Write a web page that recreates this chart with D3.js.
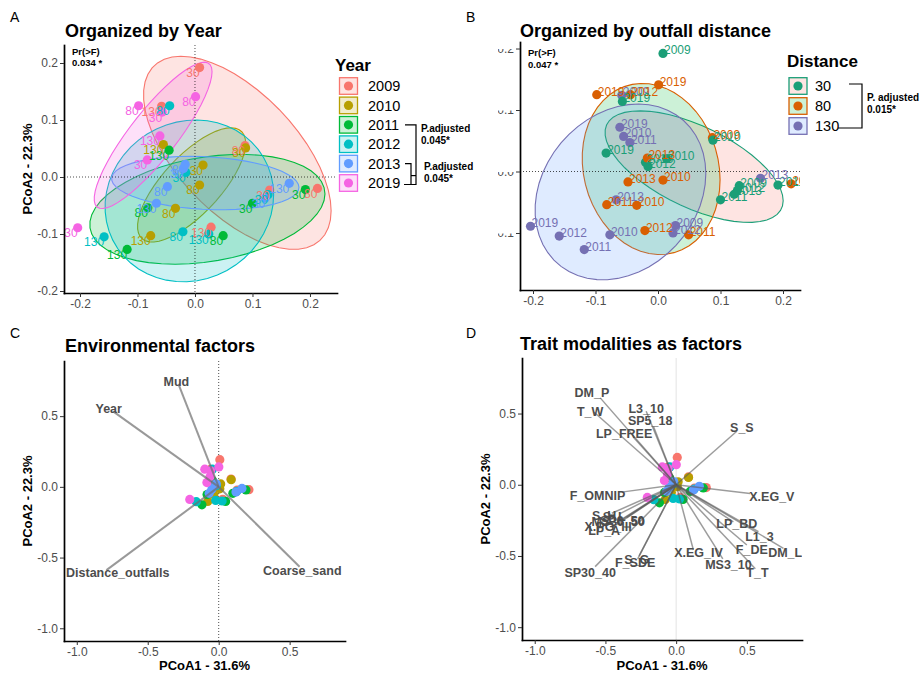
<!DOCTYPE html>
<html>
<head>
<meta charset="utf-8">
<script src="https://cdn.jsdelivr.net/npm/d3@7"></script>
<style>
  body { margin: 0; background: #fff; }
  svg { font-family: "Liberation Sans", Arial, Helvetica, sans-serif; }
</style>
</head>
<body>
<svg id="fig" width="920" height="680"></svg>
<script>
// ---------------- data ----------------
const years = ["2009", "2010", "2011", "2012", "2013", "2019"];
const distances = ["30", "80", "130"];

// one entry per sample: sampling year, distance to outfall, PCoA scores
const sampleYear = [
  "2009","2009","2009","2009","2009","2009",
  "2010","2010","2010","2010","2010","2010",
  "2011","2011","2011","2011","2011","2011",
  "2012","2012","2012","2012","2012","2012",
  "2013","2013","2013","2013","2013","2013",
  "2019","2019","2019","2019","2019","2019"
];
const sampleDist = [
  "30","30","80","80","130","130",
  "30","30","80","80","130","130",
  "30","30","80","80","130","130",
  "30","30","80","80","130","130",
  "30","30","80","80","130","130",
  "30","30","80","80","130","130"
];
const pcoa1 = [
  0.008, 0.130, 0.087, 0.213, -0.058, 0.028,
  0.014, 0.088, 0.008, -0.034, -0.055, -0.077,
  0.100, 0.192, -0.082, 0.049, -0.045, -0.118,
  -0.016, 0.127, -0.044, -0.021, 0.024, -0.158,
  0.122, -0.020, -0.017, -0.048, -0.067, 0.164,
  -0.057, -0.083, 0.001, -0.098, -0.061, -0.204
];
const pcoa2 = [
  0.192, -0.023, 0.055, -0.020, 0.124, -0.088,
  0.021, 0.051, -0.014, -0.055, 0.057, -0.103,
  -0.046, -0.022, -0.054, -0.103, 0.047, -0.127,
  0.008, -0.031, 0.125, -0.096, -0.100, -0.105,
  -0.037, 0.015, 0.022, -0.017, -0.046, -0.011,
  0.114, 0.030, 0.141, 0.125, 0.072, -0.089
];

// environmental vectors (arrow tip and label position)
const envNames  = ["Mud", "Year", "Distance_outfalls", "Coarse_sand"];
const envX      = [-0.282, -0.744, -0.791, 0.570];
const envY      = [0.723, 0.534, -0.589, -0.565];
const envLabelX = [-0.298, -0.775, -0.711, 0.589];
const envLabelY = [0.747, 0.553, -0.603, -0.589];

// trait modality vectors (arrow tip and label position)
const traitNames = ["DM_P", "T_W", "L3_10", "SP5_18", "LP_FREE", "S_S", "F_OMNIP", "X.EG_V",
  "LP_BD", "L1_3", "F_DE", "DM_L", "T_T", "MS3_10", "X.EG_IV", "S_G", "F_SDE", "SP30_40",
  "S_H", "S_L", "MS30_50", "SP6_50", "X.PG_III", "LP_A"];
const traitX = [-0.537, -0.580, -0.212, -0.160, -0.302, 0.429, -0.373, 0.523,
  0.405, 0.582, 0.500, 0.759, 0.560, 0.330, 0.122, -0.262, -0.272, -0.573,
  -0.455, -0.400, -0.380, -0.350, -0.420, -0.450];
const traitY = [0.610, 0.509, 0.516, 0.409, 0.334, 0.376, -0.050, -0.062,
  -0.260, -0.330, -0.423, -0.446, -0.590, -0.520, -0.458, -0.500, -0.520, -0.575,
  -0.200, -0.205, -0.240, -0.230, -0.270, -0.300];
const traitLabelX = [-0.596, -0.608, -0.212, -0.184, -0.368, 0.465, -0.556, 0.677,
  0.429, 0.589, 0.535, 0.771, 0.575, 0.370, 0.158, -0.278, -0.290, -0.608,
  -0.509, -0.438, -0.410, -0.382, -0.481, -0.509];
const traitLabelY = [0.647, 0.513, 0.536, 0.450, 0.357, 0.399, -0.073, -0.085,
  -0.275, -0.364, -0.452, -0.480, -0.615, -0.561, -0.480, -0.527, -0.550, -0.620,
  -0.220, -0.227, -0.262, -0.255, -0.297, -0.325];

const ticksSmall = [-0.2, -0.1, 0.0, 0.1, 0.2];
const ticksSmallB = [-0.1, 0.0, 0.1, 0.2];
const ticksLarge = [-1.0, -0.5, 0.0, 0.5];

const yearColors = ["#F8766D", "#B79F00", "#00BA38", "#00BFC4", "#619CFF", "#F564E3"];
const distColors = ["#1B9E77", "#D95F02", "#7570B3"];
const distFills  = ["#F8766D", "#00BA38", "#619CFF"];

// ---------------- helpers ----------------
const svg = d3.select("#fig");
const samples = pcoa1.map((v, i) => ({ x: v, y: pcoa2[i], year: sampleYear[i], dist: sampleDist[i] }));
const yearColor = d3.scaleOrdinal().domain(years).range(yearColors);
const distColor = d3.scaleOrdinal().domain(distances).range(distColors);
const distFill  = d3.scaleOrdinal().domain(distances).range(distFills);
const fmt = d => d.toFixed(1);
const R = 4.6;
const ELLIPSE_LEVEL = 0.75;
const TITLE_SIZE = 18;

// robust multivariate-t covariance (nu = 5) and its confidence ellipse
function trobEllipse(pts, level = ELLIPSE_LEVEL, segments = 51) {
  const n = pts.length, p = 2, nu = 5;
  let loc = [d3.mean(pts, d => d[0]), d3.mean(pts, d => d[1])];
  let w = pts.map(() => 1);
  let X = null;
  for (let iter = 0; iter < 25; iter++) {
    const w0 = w.slice();
    X = pts.map(d => [d[0] - loc[0], d[1] - loc[1]]);
    const sw = d3.sum(w);
    let a = 0, b = 0, c = 0;
    X.forEach((v, i) => { a += w[i] * v[0] * v[0] / sw; b += w[i] * v[0] * v[1] / sw; c += w[i] * v[1] * v[1] / sw; });
    const det = a * c - b * b;
    const Q = X.map(v => (c * v[0] * v[0] - 2 * b * v[0] * v[1] + a * v[1] * v[1]) / det);
    w = Q.map(q => (nu + p) / (nu + q));
    const sw2 = d3.sum(w);
    loc = [d3.sum(pts, (d, i) => w[i] * d[0]) / sw2, d3.sum(pts, (d, i) => w[i] * d[1]) / sw2];
    if (w.every((wi, i) => Math.abs(wi - w0[i]) < 0.01)) break;
  }
  let a = 0, b = 0, c = 0;
  X.forEach((v, i) => { a += w[i] * v[0] * v[0]; b += w[i] * v[0] * v[1]; c += w[i] * v[1] * v[1]; });
  a /= n; b /= n; c /= n;
  const r11 = Math.sqrt(a), r12 = b / r11, r22 = Math.sqrt(Math.max(c - r12 * r12, 0));
  const dfd = n - 1;
  const fq = dfd / 2 * (Math.pow(1 - level, -2 / dfd) - 1); // F quantile with (2, n-1) df
  const radius = Math.sqrt(2 * fq);
  return d3.range(segments + 1).map(k => {
    const t = 2 * Math.PI * k / segments, u = Math.cos(t), v = Math.sin(t);
    return [loc[0] + radius * u * r11, loc[1] + radius * (u * r12 + v * r22)];
  });
}

function makePanel(cfg) {
  const g = svg.append("g");
  const x = d3.scaleLinear().domain(cfg.xd).range([cfg.l, cfg.r]);
  const y = d3.scaleLinear().domain(cfg.yd).range([cfg.b, cfg.t]);
  const id = "clip-" + cfg.name;
  svg.append("clipPath").attr("id", id).append("rect")
    .attr("x", cfg.l).attr("y", cfg.t).attr("width", cfg.r - cfg.l).attr("height", cfg.b - cfg.t);
  const plot = g.append("g").attr("clip-path", `url(#${id})`);
  return { g, plot, x, y, cfg };
}

function styleAxis(sel) {
  sel.attr("font-family", null).attr("font-size", null);
  sel.select(".domain").attr("stroke", "#000").attr("stroke-width", 1.7).attr("stroke-linecap", "square");
  sel.selectAll(".tick line").attr("stroke", "#333").attr("stroke-width", 1);
  sel.selectAll(".tick text").attr("fill", "#4D4D4D").style("font-size", "12px");
}

function drawAxes(p, xt, yt, yClipLeft) {
  const c = p.cfg;
  p.g.append("g").attr("transform", `translate(0,${c.b})`)
    .call(d3.axisBottom(p.x).tickValues(xt).tickFormat(fmt).tickSize(4).tickSizeOuter(0).tickPadding(2))
    .call(styleAxis);
  const ya = p.g.append("g").attr("transform", `translate(${c.l},0)`)
    .call(d3.axisLeft(p.y).tickValues(yt).tickFormat(fmt).tickSize(4).tickSizeOuter(0).tickPadding(2))
    .call(styleAxis);
  if (yClipLeft !== undefined) {
    svg.append("clipPath").attr("id", "clip-yaxis-" + c.name).append("rect")
      .attr("x", yClipLeft).attr("y", 0).attr("width", 920).attr("height", 680);
    ya.selectAll(".tick text").attr("clip-path", `url(#clip-yaxis-${c.name})`)
      .attr("transform", `translate(${-c.l},0)`).attr("x", c.l - 6);
  }
}

function text(x, y, s, opts = {}) {
  return svg.append("text").attr("x", x).attr("y", y).text(s)
    .attr("font-size", opts.size || 12)
    .attr("font-weight", opts.bold ? "bold" : null)
    .attr("fill", opts.fill || "#000")
    .attr("text-anchor", opts.anchor || "start");
}

function yTitle(x, yc, s) {
  svg.append("text").attr("transform", `translate(${x},${yc}) rotate(-90)`)
    .attr("text-anchor", "middle").attr("font-size", 13).attr("font-weight", "bold").text(s);
}

// ---------------- panel A: by year ----------------
const pA = makePanel({ name: "A", l: 64, r: 337, t: 45, b: 293, xd: [-0.2278, 0.2470], yd: [-0.2035, 0.2316] });
{
  const line = d3.line().x(d => pA.x(d[0])).y(d => pA.y(d[1]));
  years.forEach(yr => {
    const pts = samples.filter(s => s.year === yr).map(s => [s.x, s.y]);
    pA.plot.append("path").attr("d", line(trobEllipse(pts)) + "Z")
      .attr("fill", yearColor(yr)).attr("fill-opacity", 0.2)
      .attr("stroke", yearColor(yr)).attr("stroke-width", 1.1);
  });
  pA.plot.append("line").attr("x1", pA.x(0)).attr("x2", pA.x(0)).attr("y1", 45).attr("y2", 293)
    .attr("stroke", "#000").attr("stroke-width", 0.7).attr("stroke-dasharray", "1,2");
  pA.plot.append("line").attr("x1", 64).attr("x2", 337).attr("y1", pA.y(0)).attr("y2", pA.y(0))
    .attr("stroke", "#000").attr("stroke-width", 0.7).attr("stroke-dasharray", "1,2");
  pA.plot.selectAll("circle.pt").data(samples).join("circle")
    .attr("cx", d => pA.x(d.x)).attr("cy", d => pA.y(d.y)).attr("r", R)
    .attr("fill", d => yearColor(d.year));
  pA.plot.selectAll("text.lab").data(samples).join("text")
    .attr("x", d => pA.x(d.x)).attr("y", d => pA.y(d.y) + 9.5)
    .attr("text-anchor", "end").attr("font-size", 12)
    .attr("fill", d => yearColor(d.year)).text(d => d.dist);
  drawAxes(pA, ticksSmall, ticksSmall);
}
text(10, 22, "A", { size: 14 });
text(65, 37, "Organized by Year", { size: TITLE_SIZE, bold: true });
yTitle(31.5, 169, "PCoA2 - 22.3%");
text(72, 54.5, "Pr(>F)", { size: 9.5, bold: true });
text(72, 66, "0.034 *", { size: 9.5, bold: true });

// legend A
text(335, 71, "Year", { size: 17, bold: true });
years.forEach((yr, i) => {
  const cy = 86 + i * 19.4;
  svg.append("rect").attr("x", 339.5).attr("y", cy - 8.3).attr("width", 18).attr("height", 16.6)
    .attr("fill", yearColor(yr)).attr("fill-opacity", 0.2)
    .attr("stroke", yearColor(yr)).attr("stroke-width", 1.3);
  svg.append("circle").attr("cx", 348.5).attr("cy", cy).attr("r", R).attr("fill", yearColor(yr));
  text(368, cy + 5.2, yr, { size: 14.5 });
});
{
  const yOf = yr => 86 + years.indexOf(yr) * 19.4;
  const br = svg.append("g").attr("fill", "none").attr("stroke", "#000").attr("stroke-width", 1.2);
  const bottom = yOf("2019") + 1.5;
  br.append("path").attr("d", `M405,${yOf("2011")}H416V${bottom}H404`);
  br.append("path").attr("d", `M405,${yOf("2013")}H411V${bottom}`);
  br.append("path").attr("d", `M411,${yOf("2013") + 12}H416`);
  text(421, yOf("2011") + 7.5, "P.adjusted", { size: 10, bold: true });
  text(421, yOf("2011") + 19.5, "0.045*", { size: 10, bold: true });
  text(424, yOf("2013") + 6.5, "P.adjusted", { size: 10, bold: true });
  text(424, yOf("2013") + 18.5, "0.045*", { size: 10, bold: true });
}

// ---------------- panel B: by outfall distance ----------------
const pB = makePanel({ name: "B", l: 520, r: 800, t: 42, b: 290, xd: [-0.2208, 0.2272], yd: [-0.1927, 0.2106] });
{
  const line = d3.line().x(d => pB.x(d[0])).y(d => pB.y(d[1]));
  distances.forEach(ds => {
    const pts = samples.filter(s => s.dist === ds).map(s => [s.x, s.y]);
    pB.plot.append("path").attr("d", line(trobEllipse(pts)) + "Z")
      .attr("fill", distFill(ds)).attr("fill-opacity", 0.2)
      .attr("stroke", distColor(ds)).attr("stroke-width", 1.1);
  });
  pB.plot.append("line").attr("x1", 520).attr("x2", 800).attr("y1", pB.y(0)).attr("y2", pB.y(0))
    .attr("stroke", "#000").attr("stroke-width", 0.7).attr("stroke-dasharray", "1,2");
  pB.plot.selectAll("circle.pt").data(samples).join("circle")
    .attr("cx", d => pB.x(d.x)).attr("cy", d => pB.y(d.y)).attr("r", R)
    .attr("fill", d => distColor(d.dist));
  pB.plot.selectAll("text.lab").data(samples).join("text")
    .attr("x", d => pB.x(d.x) + 1).attr("y", d => pB.y(d.y) + 1)
    .attr("font-size", 12).attr("fill", d => distColor(d.dist)).text(d => d.year);
  drawAxes(pB, ticksSmall, ticksSmallB, 498);
}
text(466, 22, "B", { size: 14 });
text(520, 37, "Organized by outfall distance", { size: TITLE_SIZE, bold: true });
text(528, 55.5, "Pr(>F)", { size: 9.5, bold: true });
text(528, 67.5, "0.047 *", { size: 9.5, bold: true });

// legend B
text(787, 67, "Distance", { size: 17, bold: true });
distances.forEach((ds, i) => {
  const cy = 86 + i * 20;
  svg.append("rect").attr("x", 789).attr("y", cy - 8.3).attr("width", 18).attr("height", 16.6)
    .attr("fill", distFill(ds)).attr("fill-opacity", 0.2)
    .attr("stroke", distColor(ds)).attr("stroke-width", 1.3);
  svg.append("circle").attr("cx", 798).attr("cy", cy).attr("r", R).attr("fill", distColor(ds));
  text(815, cy + 5.2, ds, { size: 14.5 });
});
svg.append("path").attr("d", "M849,84H862V128H838").attr("fill", "none").attr("stroke", "#000").attr("stroke-width", 1.2);
text(867, 101, "P. adjusted", { size: 10, bold: true });
text(867, 113, "0.015*", { size: 10, bold: true });

// ---------------- panel C: environmental factors ----------------
const pC = makePanel({ name: "C", l: 64, r: 345, t: 361, b: 641, xd: [-1.09, 0.89], yd: [-1.09, 0.89] });
{
  pC.plot.append("line").attr("x1", pC.x(0)).attr("x2", pC.x(0)).attr("y1", 361).attr("y2", 641)
    .attr("stroke", "#000").attr("stroke-width", 0.7).attr("stroke-dasharray", "1,2");
  pC.plot.selectAll("circle.pt").data(samples).join("circle")
    .attr("cx", d => pC.x(d.x)).attr("cy", d => pC.y(d.y)).attr("r", R)
    .attr("fill", d => yearColor(d.year));
  pC.plot.selectAll("line.vec").data(envNames).join("line")
    .attr("x1", pC.x(0)).attr("y1", pC.y(0))
    .attr("x2", (d, i) => pC.x(envX[i])).attr("y2", (d, i) => pC.y(envY[i]))
    .attr("stroke", "#6e6e6e").attr("stroke-opacity", 0.7).attr("stroke-width", 2);
  pC.plot.selectAll("text.vec").data(envNames).join("text")
    .attr("x", (d, i) => pC.x(envLabelX[i])).attr("y", (d, i) => pC.y(envLabelY[i]))
    .attr("dy", "0.35em").attr("text-anchor", "middle")
    .attr("font-size", 12.5).attr("font-weight", "bold").attr("fill", "#4D4D4D").text(d => d);
  drawAxes(pC, ticksLarge, ticksLarge);
}
text(10, 338, "C", { size: 14 });
text(65, 352, "Environmental factors", { size: TITLE_SIZE, bold: true });
yTitle(31.5, 501, "PCoA2 - 22.3%");
text(204.5, 670, "PCoA1 - 31.6%", { size: 13, bold: true, anchor: "middle" });

// ---------------- panel D: trait modalities ----------------
const pD = makePanel({ name: "D", l: 522, r: 802, t: 358, b: 640, xd: [-1.09, 0.89], yd: [-1.09, 0.89] });
{
  pD.plot.append("line").attr("x1", pD.x(0)).attr("x2", pD.x(0)).attr("y1", 358).attr("y2", 640)
    .attr("stroke", "#dcdcdc").attr("stroke-width", 0.8);
  pD.plot.selectAll("circle.pt").data(samples).join("circle")
    .attr("cx", d => pD.x(d.x)).attr("cy", d => pD.y(d.y)).attr("r", R)
    .attr("fill", d => yearColor(d.year));
  pD.plot.selectAll("line.vec").data(traitNames).join("line")
    .attr("x1", pD.x(0)).attr("y1", pD.y(0))
    .attr("x2", (d, i) => pD.x(traitX[i])).attr("y2", (d, i) => pD.y(traitY[i]))
    .attr("stroke", "#5a5a5a").attr("stroke-opacity", 0.6).attr("stroke-width", 1.5);
  pD.plot.selectAll("text.vec").data(traitNames).join("text")
    .attr("x", (d, i) => pD.x(traitLabelX[i])).attr("y", (d, i) => pD.y(traitLabelY[i]))
    .attr("dy", "0.35em").attr("text-anchor", "middle")
    .attr("font-size", 12.5).attr("font-weight", "bold").attr("fill", "#4D4D4D").text(d => d);
  drawAxes(pD, ticksLarge, ticksLarge);
}
text(466, 338, "D", { size: 14 });
text(520, 350, "Trait modalities as factors", { size: TITLE_SIZE, bold: true });
yTitle(489.5, 499, "PCoA2 - 22.3%");
text(662, 670, "PCoA1 - 31.6%", { size: 13, bold: true, anchor: "middle" });
</script>
</body>
</html>
